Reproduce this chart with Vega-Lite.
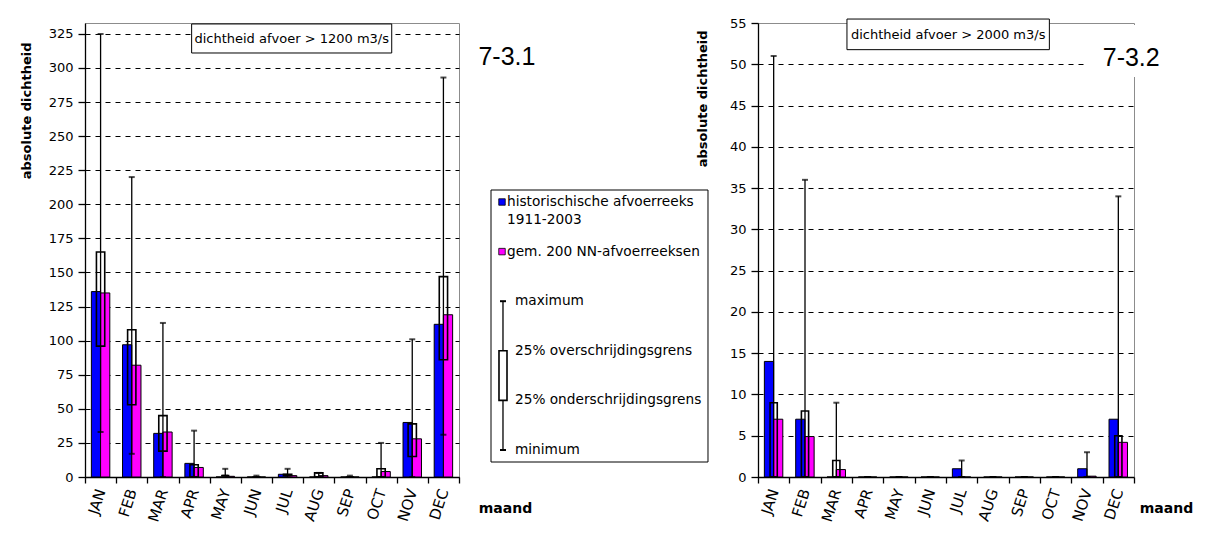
{
"$schema":"https://vega.github.io/schema/vega-lite/v6.json",
"background":"white",
"padding":{"left":19,"top":16,"right":5,"bottom":5},
"config":{
  "font":"DejaVu Sans",
  "view":{"stroke":"#8c8c8c","strokeWidth":1},
  "axis":{"domainColor":"black","tickColor":"black","labelColor":"black","titleColor":"black","domainWidth":1.3,"tickWidth":1.3,"labelFont":"DejaVu Sans","titleFont":"DejaVu Sans"},
  "axisY":{"labelOverlap":false,"titleFontSize":13,"titleFontWeight":"bold","titleAlign":"right","titleBaseline":"bottom","titleAngle":-90,"labelFontSize":13,"labelPadding":5,"tickSize":7,"grid":true,"gridColor":"black","gridDash":[5,5],"gridWidth":1.2},
  "axisX":{"titleY":31,"titleAlign":"center","titleBaseline":"middle","titleFontSize":14,"titleFontWeight":"bold","labelAngle":-72,"labelFontSize":15,"labelPadding":6,"tickBand":"extent","tickSize":6,"grid":false}
},
"spacing":32,
"bounds":"flush",
"resolve":{"scale":{"x":"independent","y":"independent","color":"independent"}},
"datasets":{
 "left":[
  {"month":"JAN","hist":136,"nn":135,"max":325,"q75":165,"q25":96,"min":33},
  {"month":"FEB","hist":97,"nn":82,"max":220,"q75":108,"q25":53,"min":17},
  {"month":"MAR","hist":32,"nn":33,"max":113,"q75":45,"q25":19,"min":0},
  {"month":"APR","hist":10,"nn":7,"max":34,"q75":9,"q25":0,"min":0},
  {"month":"MAY","hist":0,"nn":0.5,"max":6,"q75":1,"q25":1,"min":1},
  {"month":"JUN","hist":0,"nn":0,"max":1,"q75":0,"q25":0,"min":0},
  {"month":"JUL","hist":2,"nn":1,"max":6,"q75":2,"q25":1,"min":1},
  {"month":"AUG","hist":0,"nn":1,"max":3,"q75":3,"q25":0,"min":0},
  {"month":"SEP","hist":0,"nn":0,"max":1,"q75":0,"q25":0,"min":0},
  {"month":"OCT","hist":0,"nn":4,"max":25,"q75":6,"q25":0,"min":0},
  {"month":"NOV","hist":40,"nn":28,"max":101,"q75":39,"q25":15,"min":0},
  {"month":"DEC","hist":112,"nn":119,"max":293,"q75":147,"q25":86,"min":31}
 ],
 "right":[
  {"month":"JAN","hist":14,"nn":7,"max":51,"q75":9,"q25":0,"min":0},
  {"month":"FEB","hist":7,"nn":4.9,"max":36,"q75":8,"q25":0,"min":0},
  {"month":"MAR","hist":0,"nn":0.9,"max":9,"q75":2,"q25":0,"min":0},
  {"month":"APR","hist":0,"nn":0,"max":0,"q75":0,"q25":0,"min":0},
  {"month":"MAY","hist":0,"nn":0,"max":0,"q75":0,"q25":0,"min":0},
  {"month":"JUN","hist":0,"nn":0,"max":0,"q75":0,"q25":0,"min":0},
  {"month":"JUL","hist":1,"nn":0,"max":2,"q75":0,"q25":0,"min":0},
  {"month":"AUG","hist":0,"nn":0,"max":0,"q75":0,"q25":0,"min":0},
  {"month":"SEP","hist":0,"nn":0,"max":0,"q75":0,"q25":0,"min":0},
  {"month":"OCT","hist":0,"nn":0,"max":0,"q75":0,"q25":0,"min":0},
  {"month":"NOV","hist":1,"nn":0.1,"max":3,"q75":0,"q25":0,"min":0},
  {"month":"DEC","hist":7,"nn":4.2,"max":34,"q75":5,"q25":0,"min":0}
 ],
 "legend":[
  {"item":"hist","label":["historischische afvoerreeks","1911-2003"]},
  {"item":"nn","label":"gem. 200 NN-afvoerreeksen"},
  {"item":"max","label":"maximum"},
  {"item":"q75","label":"25% overschrijdingsgrens"},
  {"item":"q25","label":"25% onderschrijdingsgrens"},
  {"item":"min","label":"minimum"}
 ],
 "one":[{}],
 "leftNote":[{"label":"dichtheid afvoer > 1200 m3/s"}],
 "leftId":[{"label":"7-3.1"}],
 "rightNote":[{"label":"dichtheid afvoer > 2000 m3/s"}],
 "rightId":[{"label":"7-3.2"}]
},
"hconcat":[
 {
  "width":374,"height":454,
  "layer":[
   {"data":{"name":"left"},
    "transform":[{"fold":["hist","nn"],"as":["series","value"]}],
    "mark":{"type":"bar","stroke":"black","strokeWidth":1},
    "encoding":{
     "x":{"field":"month","type":"nominal","scale":{"domain":["JAN","FEB","MAR","APR","MAY","JUN","JUL","AUG","SEP","OCT","NOV","DEC"],"paddingInner":0,"paddingOuter":0},
      "axis":{"title":"maand","titleX":420}},
     "xOffset":{"field":"series","type":"nominal","scale":{"domain":["hist","nn"],"paddingOuter":0.69,"paddingInner":0}},
     "y":{"field":"value","type":"quantitative","scale":{"domain":[0,333],"nice":false},
      "axis":{"title":"absolute dichtheid","values":[0,25,50,75,100,125,150,175,200,225,250,275,300,325],"titleX":-52,"titleY":19}},
     "color":{"field":"series","type":"nominal","scale":{"domain":["hist","nn"],"range":["#0000ff","#ff00ff"]},"legend":null}
    }},
   {"data":{"name":"left"},
    "mark":{"type":"bar","fillOpacity":0,"stroke":"black","strokeWidth":1.6,"width":{"band":0.266}},
    "encoding":{"x":{"field":"month","type":"nominal","axis":{"title":"maand","titleX":420}},"y":{"field":"q75","type":"quantitative","axis":{"title":"absolute dichtheid","values":[0,25,50,75,100,125,150,175,200,225,250,275,300,325],"titleX":-52,"titleY":19}},"y2":{"field":"q25"}}},
   {"data":{"name":"left"},
    "mark":{"type":"rule","color":"black","strokeWidth":1.3},
    "encoding":{"x":{"field":"month","type":"nominal","axis":{"title":"maand","titleX":420}},"y":{"field":"min","type":"quantitative","axis":{"title":"absolute dichtheid","values":[0,25,50,75,100,125,150,175,200,225,250,275,300,325],"titleX":-52,"titleY":19}},"y2":{"field":"max"}}},
   {"data":{"name":"left"},
    "mark":{"type":"tick","color":"black","thickness":2,"size":6},
    "encoding":{"x":{"field":"month","type":"nominal","axis":{"title":"maand","titleX":420}},"y":{"field":"max","type":"quantitative","axis":{"title":"absolute dichtheid","values":[0,25,50,75,100,125,150,175,200,225,250,275,300,325],"titleX":-52,"titleY":19}}}},
   {"data":{"name":"left"},
    "mark":{"type":"tick","color":"black","thickness":2,"size":6},
    "encoding":{"x":{"field":"month","type":"nominal","axis":{"title":"maand","titleX":420}},"y":{"field":"min","type":"quantitative","axis":{"title":"absolute dichtheid","values":[0,25,50,75,100,125,150,175,200,225,250,275,300,325],"titleX":-52,"titleY":19}}}},
   {"data":{"name":"leftNote"},
    "mark":{"type":"bar","fill":"white","stroke":"black","strokeWidth":1,"width":{"band":6.42},"xOffset":4.1},
    "encoding":{"x":{"datum":"JUL","type":"nominal","axis":{"title":"maand","titleX":420}},"y":{"datum":332.3,"type":"quantitative","axis":{"title":"absolute dichtheid","values":[0,25,50,75,100,125,150,175,200,225,250,275,300,325],"titleX":-52,"titleY":19}},"y2":{"datum":311}}},
   {"data":{"name":"leftNote"},
    "mark":{"type":"text","fontSize":13,"dx":4.1,"baseline":"middle","color":"black"},
    "encoding":{"x":{"datum":"JUL","type":"nominal","axis":{"title":"maand","titleX":420}},"y":{"datum":321.6,"type":"quantitative","axis":{"title":"absolute dichtheid","values":[0,25,50,75,100,125,150,175,200,225,250,275,300,325],"titleX":-52,"titleY":19}},"text":{"field":"label"}}},
   {"data":{"name":"leftId"},
    "mark":{"type":"text","font":"Liberation Sans","fontSize":25,"align":"left","baseline":"middle","dx":35,"color":"black"},
    "encoding":{"x":{"datum":"DEC","type":"nominal","axis":{"title":"maand","titleX":420}},"y":{"datum":307.7,"type":"quantitative","axis":{"title":"absolute dichtheid","values":[0,25,50,75,100,125,150,175,200,225,250,275,300,325],"titleX":-52,"titleY":19}},"text":{"field":"label"}}}
  ]
 },
 {
  "width":235,"height":454,
  "view":{"stroke":null},
  "layer":[
   {"data":{"name":"one"},
    "mark":{"type":"rect","fill":"white","stroke":"black","strokeWidth":1,"yOffset":-12,"y2Offset":12},
    "encoding":{
     "x":{"datum":0,"type":"quantitative","scale":{"domain":[0,100]},"axis":null},
     "x2":{"datum":92.34},
     "y":{"datum":"hist","type":"nominal","scale":{"type":"point","domain":["hist","nn","max","q75","q25","min"],"range":[179,427],"padding":0},"axis":null},
     "y2":{"datum":"min"}}},
   {"data":{"name":"legend"},
    "transform":[{"filter":{"field":"item","oneOf":["hist","nn"]}}],
    "mark":{"type":"point","shape":"square","filled":true,"size":42,"stroke":"black","strokeWidth":0.8,"opacity":1},
    "encoding":{
     "x":{"datum":4.68,"type":"quantitative"},
     "y":{"field":"item","type":"nominal"},
     "color":{"field":"item","type":"nominal","scale":{"domain":["hist","nn"],"range":["#0000ff","#ff00ff"]},"legend":null}}},
   {"data":{"name":"legend"},
    "transform":[{"filter":{"field":"item","equal":"hist"}}],
    "mark":{"type":"text","align":"left","baseline":"middle","lineHeight":18,"fontSize":13.7,"color":"black"},
    "encoding":{"x":{"datum":6.81,"type":"quantitative"},"y":{"field":"item","type":"nominal"},"text":{"field":"label"}}},
   {"data":{"name":"legend"},
    "transform":[{"filter":{"field":"item","equal":"nn"}}],
    "mark":{"type":"text","align":"left","baseline":"middle","fontSize":13.7,"color":"black"},
    "encoding":{"x":{"datum":6.81,"type":"quantitative"},"y":{"field":"item","type":"nominal"},"text":{"field":"label"}}},
   {"data":{"name":"legend"},
    "transform":[{"filter":{"field":"item","oneOf":["max","q75","q25","min"]}}],
    "mark":{"type":"text","align":"left","baseline":"middle","fontSize":13.7,"color":"black"},
    "encoding":{"x":{"datum":10.2,"type":"quantitative"},"y":{"field":"item","type":"nominal"},"text":{"field":"label"}}},
   {"data":{"name":"one"},
    "mark":{"type":"rule","color":"black","strokeWidth":1.3},
    "encoding":{"x":{"datum":5.1,"type":"quantitative"},"y":{"datum":"max","type":"nominal"},"y2":{"datum":"min"}}},
   {"data":{"name":"one"},
    "mark":{"type":"rect","fill":"white","stroke":"black","strokeWidth":1.6},
    "encoding":{"x":{"datum":3.4,"type":"quantitative"},"x2":{"datum":6.81},"y":{"datum":"q75","type":"nominal"},"y2":{"datum":"q25"}}},
   {"data":{"name":"one"},
    "mark":{"type":"rule","color":"black","strokeWidth":2},
    "encoding":{"x":{"datum":3.83,"type":"quantitative"},"x2":{"datum":6.38},"y":{"datum":"max","type":"nominal"}}},
   {"data":{"name":"one"},
    "mark":{"type":"rule","color":"black","strokeWidth":2},
    "encoding":{"x":{"datum":3.83,"type":"quantitative"},"x2":{"datum":6.38},"y":{"datum":"min","type":"nominal"}}}
  ]
 },
 {
  "width":376,"height":454,
  "layer":[
   {"data":{"name":"right"},
    "transform":[{"fold":["hist","nn"],"as":["series","value"]}],
    "mark":{"type":"bar","stroke":"black","strokeWidth":1},
    "encoding":{
     "x":{"field":"month","type":"nominal","scale":{"domain":["JAN","FEB","MAR","APR","MAY","JUN","JUL","AUG","SEP","OCT","NOV","DEC"],"paddingInner":0,"paddingOuter":0},
      "axis":{"title":"maand","titleX":408}},
     "xOffset":{"field":"series","type":"nominal","scale":{"domain":["hist","nn"],"paddingOuter":0.8,"paddingInner":0}},
     "y":{"field":"value","type":"quantitative","scale":{"domain":[0,55],"nice":false},
      "axis":{"title":"absolute dichtheid","values":[0,5,10,15,20,25,30,35,40,45,50,55],"titleX":-49,"titleY":7,"gridColor":{"condition":{"test":"datum.value >= 55","value":"transparent"},"value":"black"}}},
     "color":{"field":"series","type":"nominal","scale":{"domain":["hist","nn"],"range":["#0000ff","#ff00ff"]},"legend":null}
    }},
   {"data":{"name":"right"},
    "mark":{"type":"bar","fillOpacity":0,"stroke":"black","strokeWidth":1.6,"width":{"band":0.23}},
    "encoding":{"x":{"field":"month","type":"nominal","axis":{"title":"maand","titleX":408}},"y":{"field":"q75","type":"quantitative","axis":{"title":"absolute dichtheid","values":[0,5,10,15,20,25,30,35,40,45,50,55],"titleX":-49,"titleY":7,"gridColor":{"condition":{"test":"datum.value >= 55","value":"transparent"},"value":"black"}}},"y2":{"field":"q25"}}},
   {"data":{"name":"right"},
    "mark":{"type":"rule","color":"black","strokeWidth":1.3},
    "encoding":{"x":{"field":"month","type":"nominal","axis":{"title":"maand","titleX":408}},"y":{"field":"min","type":"quantitative","axis":{"title":"absolute dichtheid","values":[0,5,10,15,20,25,30,35,40,45,50,55],"titleX":-49,"titleY":7,"gridColor":{"condition":{"test":"datum.value >= 55","value":"transparent"},"value":"black"}}},"y2":{"field":"max"}}},
   {"data":{"name":"right"},
    "mark":{"type":"tick","color":"black","thickness":2,"size":6},
    "encoding":{"x":{"field":"month","type":"nominal","axis":{"title":"maand","titleX":408}},"y":{"field":"max","type":"quantitative","axis":{"title":"absolute dichtheid","values":[0,5,10,15,20,25,30,35,40,45,50,55],"titleX":-49,"titleY":7,"gridColor":{"condition":{"test":"datum.value >= 55","value":"transparent"},"value":"black"}}}}},
   {"data":{"name":"right"},
    "mark":{"type":"tick","color":"black","thickness":2,"size":6},
    "encoding":{"x":{"field":"month","type":"nominal","axis":{"title":"maand","titleX":408}},"y":{"field":"min","type":"quantitative","axis":{"title":"absolute dichtheid","values":[0,5,10,15,20,25,30,35,40,45,50,55],"titleX":-49,"titleY":7,"gridColor":{"condition":{"test":"datum.value >= 55","value":"transparent"},"value":"black"}}}}},
   {"data":{"name":"rightId"},
    "mark":{"type":"bar","fill":"white","strokeWidth":0,"width":{"band":3.96},"xOffset":27.7},
    "encoding":{"x":{"datum":"DEC","type":"nominal","axis":{"title":"maand","titleX":408}},"y":{"datum":54.76,"type":"quantitative","axis":{"title":"absolute dichtheid","values":[0,5,10,15,20,25,30,35,40,45,50,55],"titleX":-49,"titleY":7,"gridColor":{"condition":{"test":"datum.value >= 55","value":"transparent"},"value":"black"}}},"y2":{"datum":48.46}}},
   {"data":{"name":"rightId"},
    "mark":{"type":"text","font":"Liberation Sans","fontSize":25,"align":"left","baseline":"middle","dx":-15.6,"color":"black"},
    "encoding":{"x":{"datum":"DEC","type":"nominal","axis":{"title":"maand","titleX":408}},"y":{"datum":50.7,"type":"quantitative","axis":{"title":"absolute dichtheid","values":[0,5,10,15,20,25,30,35,40,45,50,55],"titleX":-49,"titleY":7,"gridColor":{"condition":{"test":"datum.value >= 55","value":"transparent"},"value":"black"}}},"text":{"field":"label"}}},
   {"data":{"name":"rightNote"},
    "mark":{"type":"bar","fill":"white","stroke":"black","strokeWidth":1,"width":{"band":6.46},"xOffset":-13.5},
    "encoding":{"x":{"datum":"JUL","type":"nominal","axis":{"title":"maand","titleX":408}},"y":{"datum":55.48,"type":"quantitative","axis":{"title":"absolute dichtheid","values":[0,5,10,15,20,25,30,35,40,45,50,55],"titleX":-49,"titleY":7,"gridColor":{"condition":{"test":"datum.value >= 55","value":"transparent"},"value":"black"}}},"y2":{"datum":51.77}}},
   {"data":{"name":"rightNote"},
    "mark":{"type":"text","fontSize":13,"dx":-13.5,"baseline":"middle","color":"black"},
    "encoding":{"x":{"datum":"JUL","type":"nominal","axis":{"title":"maand","titleX":408}},"y":{"datum":53.6,"type":"quantitative","axis":{"title":"absolute dichtheid","values":[0,5,10,15,20,25,30,35,40,45,50,55],"titleX":-49,"titleY":7,"gridColor":{"condition":{"test":"datum.value >= 55","value":"transparent"},"value":"black"}}},"text":{"field":"label"}}}
  ]
 }
]
}
